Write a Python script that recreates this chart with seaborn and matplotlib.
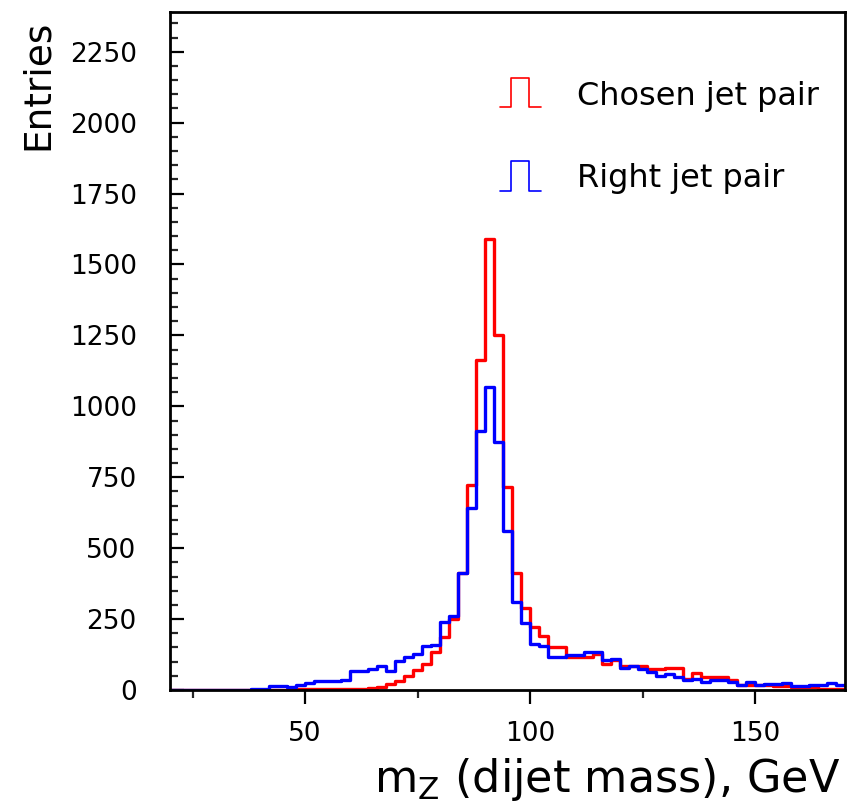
import numpy as np
import pandas as pd
import matplotlib
matplotlib.use("Agg")
import matplotlib.pyplot as plt
import seaborn as sns
from matplotlib.ticker import MultipleLocator

# ---- data: dijet mass histograms, 2 GeV bins from 20 to 170 GeV ----
bin_edges = np.arange(20, 172, 2)
bin_centers = bin_edges[:-1] + 1

chosen_pair = [0, 0, 0, 0, 0, 0, 0, 0, 0,
               1, 1, 1, 1, 1, 2, 2, 2, 2, 2,
               3, 3, 4, 6, 12, 20, 30, 48, 72, 92,
               135, 188, 250, 411, 722, 1163, 1590, 1251, 716, 411,
               289, 222, 189, 151, 151, 118, 116, 118, 128, 90,
               104, 86, 86, 86, 75, 75, 76, 78, 39, 59,
               45, 45, 45, 34, 16, 19, 16, 16, 14, 14,
               10, 10, 10, 5, 5, 5]

right_pair = [0, 0, 0, 0, 0, 0, 0, 0, 0,
              5, 5, 15, 15, 9, 18, 24, 30, 33, 33,
              37, 66, 66, 74, 84, 68, 101, 118, 127, 155,
              157, 239, 260, 411, 641, 913, 1068, 875, 561, 311,
              235, 163, 154, 116, 116, 122, 122, 133, 133, 104,
              111, 78, 83, 75, 63, 48, 57, 46, 34, 38,
              28, 34, 34, 27, 16, 28, 16, 22, 22, 25,
              13, 13, 19, 19, 25, 19]

series_labels = ["Chosen jet pair", "Right jet pair"]
series_colors = ["#ff0000", "#0000ff"]

sns.set_theme(style="ticks")
plt.rcParams['font.family'] = ['DejaVu Sans']
plt.rcParams['mathtext.default'] = 'regular'

W, H = 848, 806
fig = plt.figure(figsize=(W / 100, H / 100), dpi=100)
ax = fig.add_axes([170 / W, 1 - 690 / H, 675 / W, 678 / H])

for vals, col in zip([chosen_pair, right_pair], series_colors):
    df = pd.DataFrame({"mass": bin_centers, "entries": np.asarray(vals, float)})
    sns.histplot(data=df, x="mass", weights="entries", binwidth=2,
                 binrange=(20, 170), element="step", fill=False, color=col,
                 linewidth=2.4, ax=ax)

ax.set_xlim(20, 170)
ax.set_ylim(0, 2390)
ax.set_xlabel("")
ax.set_ylabel("")

ax.xaxis.set_major_locator(MultipleLocator(50))
ax.xaxis.set_minor_locator(MultipleLocator(25))
ax.yaxis.set_major_locator(MultipleLocator(250))
ax.yaxis.set_minor_locator(MultipleLocator(50))

ax.tick_params(axis='x', which='major', direction='out', length=10, width=1.6,
               labelsize=19, pad=12, colors='black')
ax.tick_params(axis='x', which='minor', direction='out', length=6, width=1.6)
ax.tick_params(axis='y', which='major', direction='in', length=10, width=1.6,
               labelsize=19, pad=24, colors='black')
ax.tick_params(axis='y', which='minor', direction='in', length=6, width=1.6)
ax.tick_params(which='both', top=False, right=False, bottom=True, left=True)

for sp in ax.spines.values():
    sp.set_visible(True)
    sp.set_linewidth(2.0)
    sp.set_color('black')

# axis titles (ROOT-style placement)
fig.text(840 / W, 1 - 792 / H, r"m$_{Z}$ (dijet mass), GeV", ha='right',
         va='baseline', fontsize=32, color='black')
fig.text(38 / W, 1 - 20 / H, "Entries", rotation=90, ha='center', va='top',
         fontsize=27, color='black')

# legend with pulse-shaped icons
icon_y = [(107, 78), (191, 161)]
text_base = [105, 187]
for (base, top), tb, lab, col in zip(icon_y, text_base, series_labels, series_colors):
    xs = [500, 511, 511, 529, 529, 541]
    ys = [base, base, top, top, base, base]
    ax.plot([x / W for x in xs], [1 - y / H for y in ys], color=col, lw=1.2,
            transform=fig.transFigure, clip_on=False)
    fig.text(577 / W, 1 - tb / H, lab, ha='left', va='baseline', fontsize=23,
             color='black')

fig.savefig("out.png", dpi=100)
